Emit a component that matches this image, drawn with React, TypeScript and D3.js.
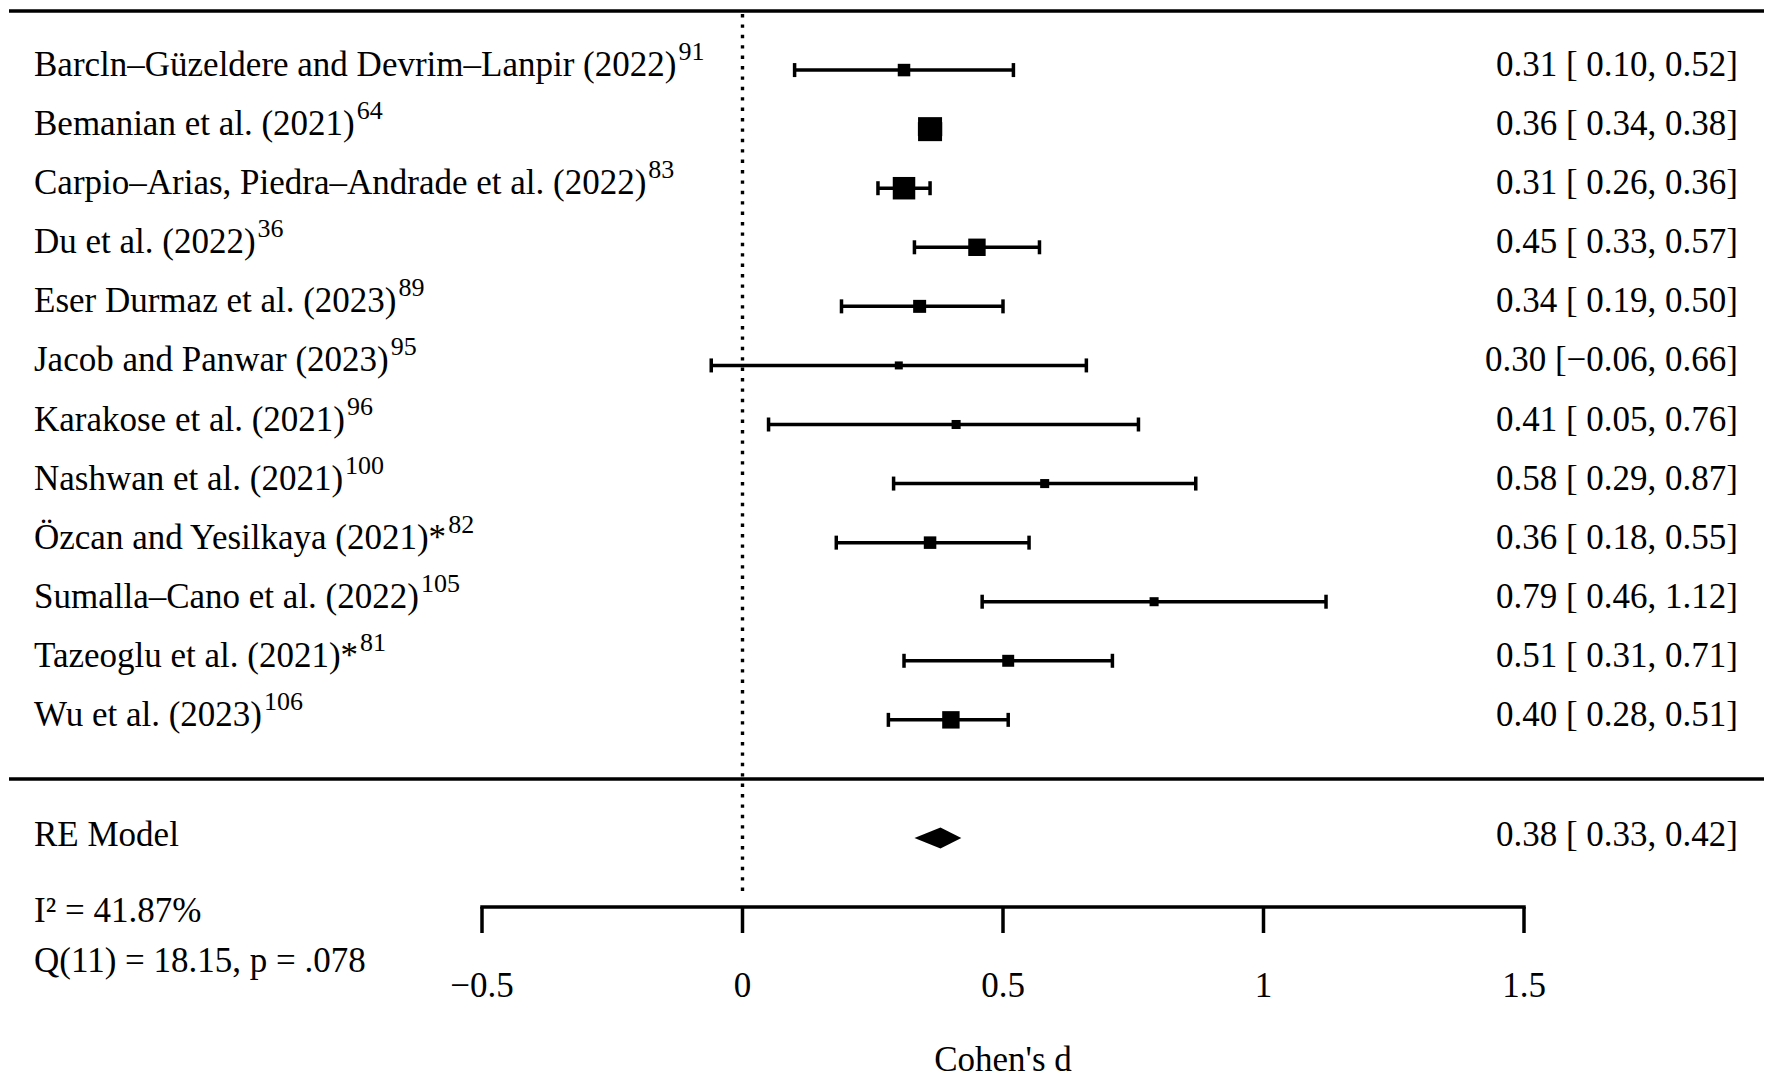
import * as d3 from "d3";

// ── data ───────────────────────────────────────────────────────────────────
const studies = [
  "Barcln–Güzeldere and Devrim–Lanpir (2022)",
  "Bemanian et al. (2021)",
  "Carpio–Arias, Piedra–Andrade et al. (2022)",
  "Du et al. (2022)",
  "Eser Durmaz et al. (2023)",
  "Jacob and Panwar (2023)",
  "Karakose et al. (2021)",
  "Nashwan et al. (2021)",
  "Özcan and Yesilkaya (2021)*",
  "Sumalla–Cano et al. (2022)",
  "Tazeoglu et al. (2021)*",
  "Wu et al. (2023)",
];
const refs = ["91", "64", "83", "36", "89", "95", "96", "100", "82", "105", "81", "106"];
const estimates = [0.31, 0.36, 0.31, 0.45, 0.34, 0.3, 0.41, 0.58, 0.36, 0.79, 0.51, 0.4];
const lowers = [0.1, 0.34, 0.26, 0.33, 0.19, -0.06, 0.05, 0.29, 0.18, 0.46, 0.31, 0.28];
const uppers = [0.52, 0.38, 0.36, 0.57, 0.5, 0.66, 0.76, 0.87, 0.55, 1.12, 0.71, 0.51];
// estimated study weights (%) judged from the square sizes
const weights = [6.9, 19.1, 17.5, 12.1, 7.4, 2.1, 3.2, 3.2, 6.9, 3.2, 6.3, 12.1];

const pooled = { est: 0.38, lb: 0.33, ub: 0.42 };
const heterogeneity = ["I² = 41.87%", "Q(11) = 18.15, p = .078"];
const axisTicks = [-0.5, 0, 0.5, 1, 1.5];
const axisTitle = "Cohen's d";

const W = 1772;
const H = 1085;
const FONT = "'Liberation Serif', 'Times New Roman', Times, serif";
const FS = 35;

const x = d3.scaleLinear().domain([-0.5, 1.5]).range([482, 1524]);
// metafor-style rows: study k at top ... 1, summary at -1
const y = d3.scaleLinear().domain([13, -1]).range([11, 838]);
const size = d3
  .scaleLinear()
  .domain([d3.min(weights) as number, d3.max(weights) as number])
  .range([8, 24]);
const f2 = d3.format(".2f");
const ciText = (e: number, l: number, u: number) =>
  `${f2(e)} [${l < 0 ? "" : " "}${f2(l)}, ${f2(u)}]`;
const tickFmt = d3.format("");

const T = ({
  x0,
  y0,
  anchor = "start",
  children,
}: {
  x0: number;
  y0: number;
  anchor?: string;
  children: any;
}) => (
  <text
    x={x0}
    y={y0}
    textAnchor={anchor}
    fontFamily={FONT}
    fontSize={FS}
    fill="#000"
    style={{ whiteSpace: "pre" }}
  >
    {children}
  </text>
);

export default function App() {
  const k = studies.length;
  const rowOf = (i: number) => k - i;
  const LW = 3.5;
  const BASE = 6;

  return (
    <svg
      width={W}
      height={H}
      viewBox={`0 0 ${W} ${H}`}
      style={{ position: "absolute", left: 0, top: 0, background: "#fff" }}
    >
      <rect width={W} height={H} fill="#fff" />

      {/* reference line at 0 */}
      <line
        x1={x(0)}
        x2={x(0)}
        y1={14}
        y2={898}
        stroke="#000"
        strokeWidth={3.4}
        strokeDasharray="3.4 7"
      />

      {/* horizontal rules */}
      <line x1={9} x2={1764} y1={y(13)} y2={y(13)} stroke="#000" strokeWidth={LW} />
      <line x1={9} x2={1764} y1={y(0)} y2={y(0)} stroke="#000" strokeWidth={LW} />

      {/* studies */}
      {studies.map((name, i) => {
        const cy = y(rowOf(i));
        const s = size(weights[i]);
        const xl = x(lowers[i]);
        const xu = x(uppers[i]);
        return (
          <g key={name}>
            <line x1={xl} x2={xu} y1={cy} y2={cy} stroke="#000" strokeWidth={LW} />
            <line x1={xl} x2={xl} y1={cy - 7} y2={cy + 7} stroke="#000" strokeWidth={LW} />
            <line x1={xu} x2={xu} y1={cy - 7} y2={cy + 7} stroke="#000" strokeWidth={LW} />
            <rect x={x(estimates[i]) - s / 2} y={cy - s / 2} width={s} height={s} fill="#000" />
            <T x0={34} y0={cy + BASE}>
              {name}
              <tspan fontSize={26} dx={2} dy={-16}>
                {refs[i]}
              </tspan>
            </T>
            <T x0={1738} y0={cy + BASE} anchor="end">
              {ciText(estimates[i], lowers[i], uppers[i])}
            </T>
          </g>
        );
      })}

      {/* pooled estimate */}
      <polygon
        points={[
          [x(pooled.lb), y(-1)],
          [x(pooled.est), y(-1) - 10.5],
          [x(pooled.ub), y(-1)],
          [x(pooled.est), y(-1) + 10.5],
        ]
          .map((p) => p.join(","))
          .join(" ")}
        fill="#000"
      />
      <T x0={34} y0={y(-1) + 8}>
        RE Model
      </T>
      <T x0={1738} y0={y(-1) + 8} anchor="end">
        {ciText(pooled.est, pooled.lb, pooled.ub)}
      </T>

      {/* heterogeneity */}
      <T x0={34} y0={922}>
        {heterogeneity[0]}
      </T>
      <T x0={34} y0={972}>
        {heterogeneity[1]}
      </T>

      {/* x axis */}
      <line
        x1={x(axisTicks[0])}
        x2={x(axisTicks[axisTicks.length - 1])}
        y1={907}
        y2={907}
        stroke="#000"
        strokeWidth={LW}
        strokeLinecap="square"
      />
      {axisTicks.map((t) => (
        <g key={t}>
          <line x1={x(t)} x2={x(t)} y1={907} y2={933} stroke="#000" strokeWidth={LW} />
          <T x0={x(t)} y0={997} anchor="middle">
            {tickFmt(t)}
          </T>
        </g>
      ))}
      <T x0={x(0.5)} y0={1071} anchor="middle">
        {axisTitle}
      </T>
    </svg>
  );
}
